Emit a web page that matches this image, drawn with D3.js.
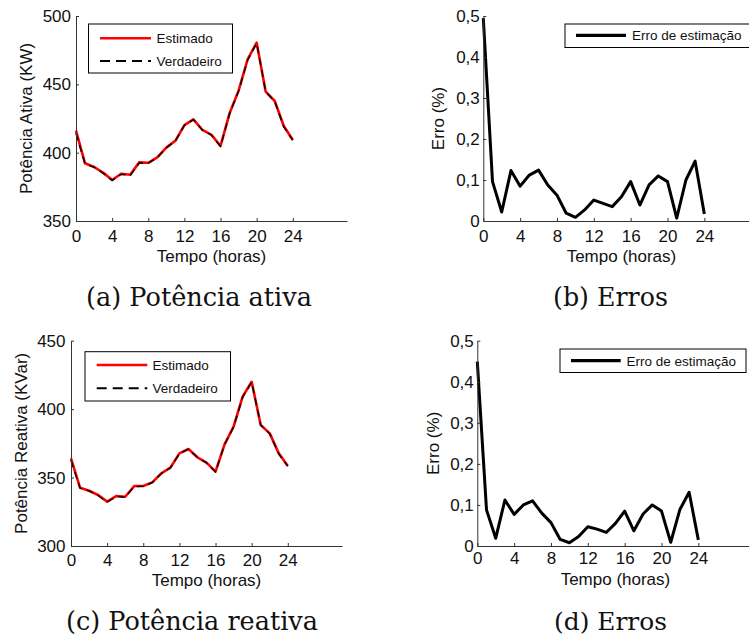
<!DOCTYPE html>
<html>
<head>
<meta charset="utf-8">
<script src="https://cdn.jsdelivr.net/npm/d3@7/dist/d3.min.js"></script>
<style>
  body { margin: 0; background: #fff; }
  svg { display: block; }
  .sans { font-family: "Liberation Sans", Arial, Helvetica, sans-serif; fill: #111; }
  .cap { font-family: "DejaVu Serif", "Liberation Serif", serif; fill: #111; }
</style>
</head>
<body>
<svg id="fig" width="749" height="637"></svg>
<script>
// ---- data -------------------------------------------------------------
const horas = [0, 1, 2, 3, 4, 5, 6, 7, 8, 9, 10, 11, 12, 13, 14, 15, 16, 17, 18, 19, 20, 21, 22, 23, 24];
const xTicks = [0, 4, 8, 12, 16, 20, 24];

// active power (KW)
const ativaEstimado   = [416.1, 392.2, 389.5, 385.4, 380.0, 384.6, 383.8, 392.9, 392.6, 396.5, 403.7, 408.7, 420.2, 424.4, 416.6, 413.0, 404.9, 428.8, 445.4, 468.3, 480.5, 444.6, 437.8, 419.5, 409.3];
const ativaVerdadeiro = [414.0, 391.8, 389.4, 384.9, 379.7, 384.2, 383.3, 392.5, 392.4, 396.4, 403.7, 408.6, 420.0, 424.2, 416.5, 412.8, 404.5, 428.5, 445.0, 467.8, 480.0, 444.6, 437.4, 418.9, 409.2];

// reactive power (KVar)
const reativaEstimado   = [364.1, 342.6, 340.4, 337.3, 332.4, 336.5, 336.0, 343.8, 343.8, 346.5, 353.1, 357.2, 367.7, 370.9, 364.8, 360.9, 354.3, 374.3, 387.2, 409.1, 420.0, 388.4, 382.3, 367.7, 358.4];
const reativaVerdadeiro = [362.5, 342.3, 340.3, 336.9, 332.1, 336.2, 335.6, 343.5, 343.6, 346.4, 353.0, 357.1, 367.5, 370.7, 364.7, 360.7, 354.0, 374.2, 386.9, 408.7, 419.6, 388.4, 382.0, 367.2, 358.3];

// estimation error (%)
const erroAtiva   = [0.495, 0.096, 0.022, 0.123, 0.085, 0.112, 0.124, 0.088, 0.063, 0.019, 0.009, 0.027, 0.051, 0.043, 0.035, 0.059, 0.096, 0.039, 0.088, 0.110, 0.096, 0.007, 0.100, 0.146, 0.017];
const erroReativa = [0.449, 0.088, 0.019, 0.112, 0.077, 0.100, 0.110, 0.080, 0.057, 0.016, 0.008, 0.023, 0.047, 0.041, 0.033, 0.055, 0.085, 0.037, 0.078, 0.100, 0.085, 0.009, 0.089, 0.131, 0.015];

const ativaTicks = [350, 400, 450, 500];
const reativaTicks = [300, 350, 400, 450];
const erroTicks = [0, 0.1, 0.2, 0.3, 0.4, 0.5];
const erroTickLabels = ["0", "0,1", "0,2", "0,3", "0,4", "0,5"];

const captions = ["(a) Potência ativa", "(b) Erros", "(c) Potência reativa", "(d) Erros"];
const xTitle = "Tempo (horas)";

// ---- layout of the four panels -------------------------------------------
const svg = d3.select("#fig");
const FONT = 17;

const panels = [
  {
    x0: 76, x1: 347, yTop: 16, yBot: 221,
    yDomain: [350, 500], yTicks: ativaTicks, yFmt: d => String(d),
    yTitle: "Potência Ativa (KW)", yTitleX: 32,
    xTitleY: 262, padX: 9, padY: 5,
    series: [
      { values: ativaEstimado, color: "#ff0000", width: 2.6, dash: null, name: "Estimado" },
      { values: ativaVerdadeiro, color: "#000", width: 1.4, dash: "7,5", name: "Verdadeiro" }
    ],
    legend: { x: 88.5, y: 24, w: 144, h: 49, lx0: 100, lx1: 151, tx: 156.5, rows: [38.3, 61] }
  },
  {
    x0: 483.3, x1: 759.6, yTop: 16, yBot: 221,
    yDomain: [0, 0.5], yTicks: erroTicks, yFmt: (d, i) => erroTickLabels[i],
    yTitle: "Erro (%)", yTitleX: 444,
    xTitleY: 262, padX: 9, padY: 3.5,
    series: [
      { values: erroAtiva, color: "#000", width: 3, dash: null, name: "Erro de estimação" }
    ],
    legend: { x: 565, y: 24, w: 190, h: 23.5, lx0: 576, lx1: 626, tx: 632, rows: [35.3] }
  },
  {
    x0: 71, x1: 342, yTop: 340.7, yBot: 546,
    yDomain: [300, 450], yTicks: reativaTicks, yFmt: d => String(d),
    yTitle: "Potência Reativa (KVar)", yTitleX: 27,
    xTitleY: 586, padX: 7.5, padY: 5.5,
    series: [
      { values: reativaEstimado, color: "#ff0000", width: 2.6, dash: null, name: "Estimado" },
      { values: reativaVerdadeiro, color: "#000", width: 1.4, dash: "7,5", name: "Verdadeiro" }
    ],
    legend: { x: 85, y: 351.7, w: 145.5, h: 49.3, lx0: 96.7, lx1: 147.3, tx: 152.5, rows: [365, 388.3] }
  },
  {
    x0: 477.3, x1: 753.6, yTop: 340.7, yBot: 546,
    yDomain: [0, 0.5], yTicks: erroTicks, yFmt: (d, i) => erroTickLabels[i],
    yTitle: "Erro (%)", yTitleX: 439,
    xTitleY: 585, padX: 6, padY: 3.5,
    series: [
      { values: erroReativa, color: "#000", width: 3, dash: null, name: "Erro de estimação" }
    ],
    legend: { x: 560, y: 349, w: 186, h: 23.5, lx0: 571, lx1: 620.7, tx: 626.5, rows: [360.7] }
  }
];

panels.forEach(p => {
  const g = svg.append("g");
  const x = d3.scaleLinear().domain([0, 30]).range([p.x0, p.x1]);
  const y = d3.scaleLinear().domain(p.yDomain).range([p.yBot, p.yTop]);

  // data lines
  const line = vals => d3.line().x((d, i) => x(horas[i])).y(d => y(d))(vals);
  p.series.forEach(s => {
    g.append("path")
      .attr("d", line(s.values))
      .attr("fill", "none")
      .attr("stroke", s.color)
      .attr("stroke-width", s.width)
      .attr("stroke-linejoin", "round")
      .attr("stroke-dasharray", s.dash);
  });

  // x axis (ticks pointing inward)
  const ax = g.append("g")
    .attr("transform", `translate(0,${p.yBot})`)
    .call(d3.axisBottom(x).tickValues(xTicks).tickSizeInner(-3).tickSizeOuter(0).tickPadding(p.padX));
  // y axis
  const ay = g.append("g")
    .attr("transform", `translate(${p.x0},0)`)
    .call(d3.axisLeft(y).tickValues(p.yTicks).tickFormat(p.yFmt).tickSizeInner(-3).tickSizeOuter(0).tickPadding(p.padY));

  [ax, ay].forEach(a => {
    a.select(".domain").attr("stroke", "#333").attr("stroke-width", 1);
    a.selectAll(".tick line").attr("stroke", "#333");
    a.selectAll(".tick text")
      .attr("class", "sans")
      .attr("fill", "#111")
      .style("font-size", FONT + "px");
    a.attr("font-family", null).attr("font-size", null);
  });

  // axis titles
  g.append("text")
    .attr("class", "sans")
    .attr("x", (p.x0 + p.x1) / 2)
    .attr("y", p.xTitleY)
    .attr("text-anchor", "middle")
    .style("font-size", FONT + "px")
    .text(xTitle);

  g.append("text")
    .attr("class", "sans")
    .attr("transform", `translate(${p.yTitleX},${(p.yTop + p.yBot) / 2}) rotate(-90)`)
    .attr("text-anchor", "middle")
    .style("font-size", FONT + "px")
    .text(p.yTitle);

  // legend
  const L = p.legend;
  g.append("rect")
    .attr("x", L.x).attr("y", L.y).attr("width", L.w).attr("height", L.h)
    .attr("fill", "#fff").attr("stroke", "#000").attr("stroke-width", 1);
  p.series.forEach((s, i) => {
    g.append("line")
      .attr("x1", L.lx0).attr("x2", L.lx1)
      .attr("y1", L.rows[i]).attr("y2", L.rows[i])
      .attr("stroke", s.color)
      .attr("stroke-width", s.dash ? 2 : (s.width > 2.8 ? 3.2 : s.width))
      .attr("stroke-dasharray", s.dash ? "10,6" : null);
    g.append("text")
      .attr("class", "sans")
      .attr("x", L.tx).attr("y", L.rows[i])
      .attr("dy", "0.36em")
      .style("font-size", "13.5px")
      .text(s.name);
  });
});

// sub-figure captions, sized to their slot widths
const capSlots = [
  { cx: 199, w: 226, y: 306 },
  { cx: 610.5, w: 115, y: 306 },
  { cx: 192, w: 252, y: 630 },
  { cx: 610.5, w: 113, y: 630 }
];
captions.forEach((c, i) => {
  const s = capSlots[i];
  const t = svg.append("text")
    .attr("class", "cap")
    .attr("x", s.cx).attr("y", s.y)
    .attr("text-anchor", "middle")
    .style("font-size", "24px")
    .text(c);
  const wNow = t.node().getComputedTextLength();
  t.style("font-size", (24 * s.w / wNow).toFixed(2) + "px");
});
</script>
</body>
</html>
